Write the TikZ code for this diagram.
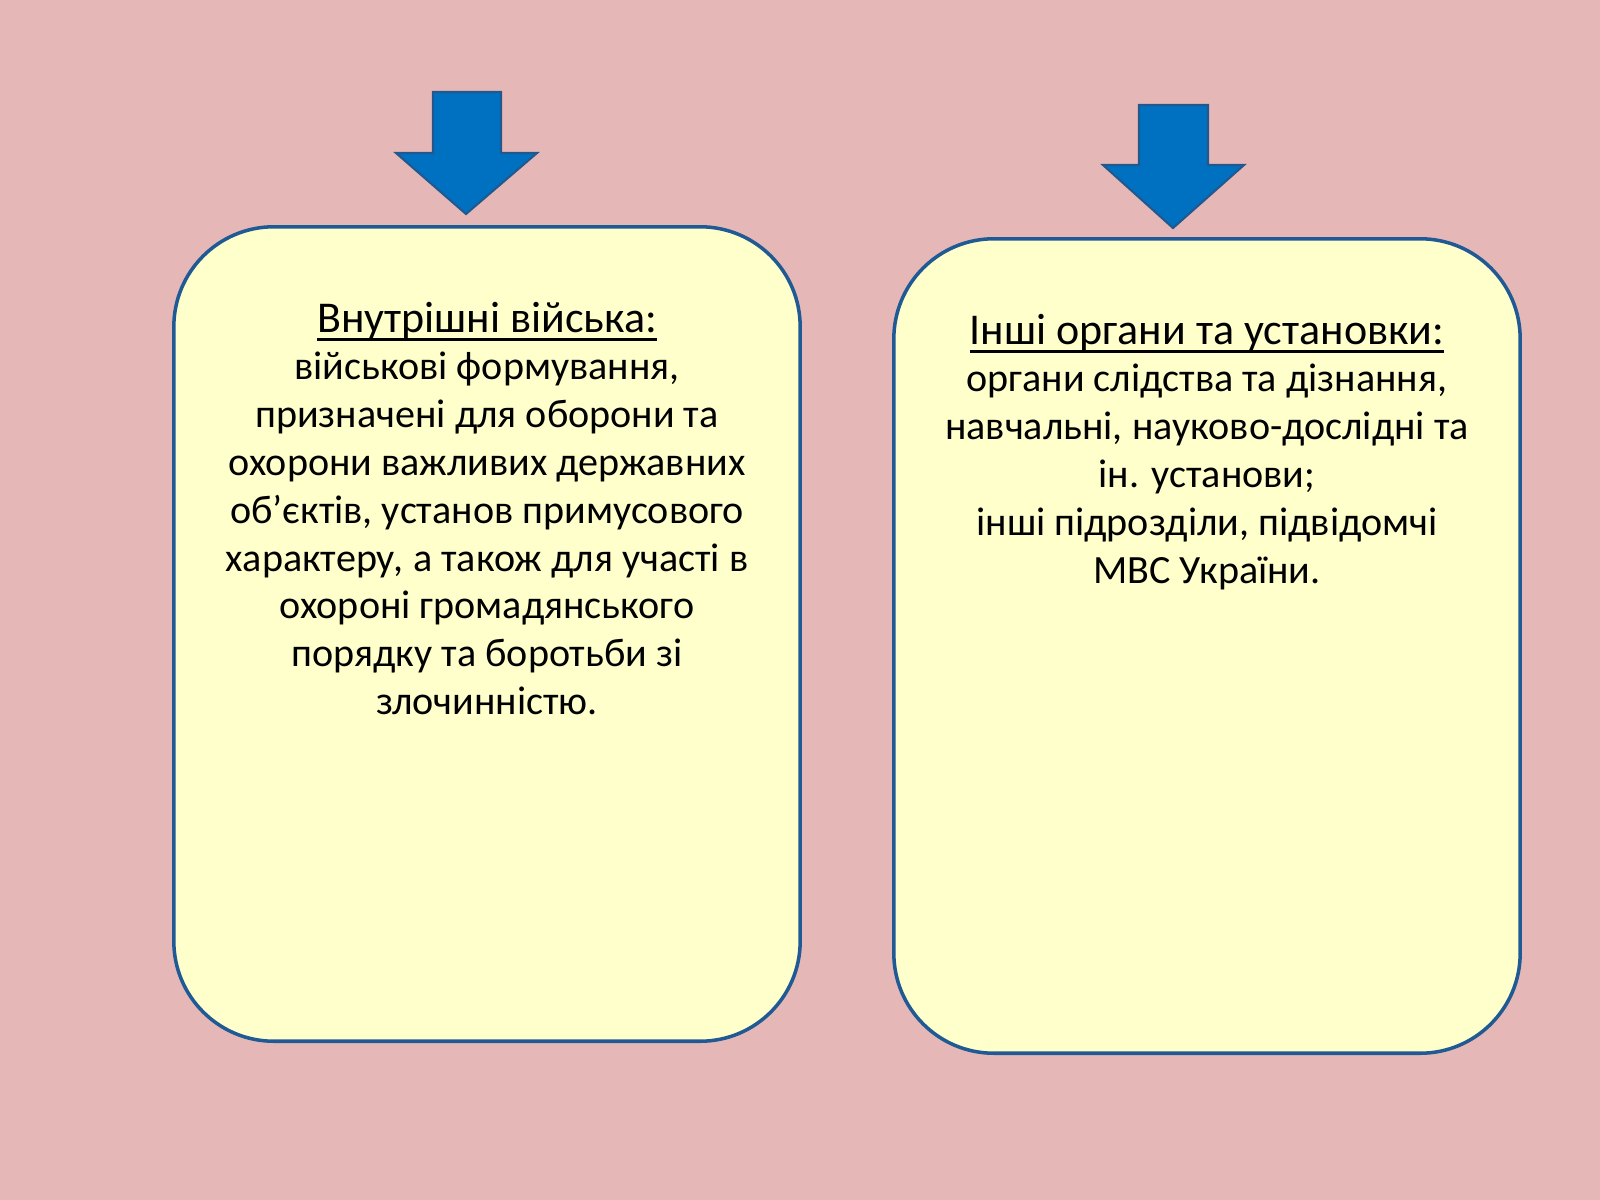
\documentclass[tikz,border=0pt]{standalone}
\usepackage{fontspec}
\setmainfont{Carlito}
\usepackage{xcolor}
\usepackage{tikz}
\usetikzlibrary{positioning}
\definecolor{slidebg}{HTML}{E5B8B7}
\definecolor{panelfill}{HTML}{FFFFCC}
\definecolor{panelline}{HTML}{1F5A94}
\definecolor{arrowfill}{HTML}{0070C0}
\definecolor{arrowline}{HTML}{21598F}
\newcommand{\paneltitle}[1]{\setbox0\hbox{\fontsize{12.5}{13.6}\selectfont #1}\leavevmode\rlap{\rule[-2.6pt]{\wd0}{0.8pt}}\box0}

\begin{document}
\begin{tikzpicture}[x=0.01cm,y=-0.01cm,
        panel/.style={draw=panelline, line width=1pt, fill=panelfill, rounded corners=1cm,
            minimum width=6.26cm, minimum height=8.14cm, inner sep=0pt},
        paneltext/.style={align=center, inner sep=0pt, font=\fontsize{11.4}{13.6}\selectfont},
        downarrow/.style={draw=arrowline, line width=0.6pt, fill=arrowfill, line join=miter}]
        \fill[slidebg] (0,0) rectangle (1600,1200);
        % arrows
        \draw[downarrow] (433,92) -- (501,92) -- (501,153) -- (537,153) -- (466,214) -- (396,153) -- (433,153) -- cycle;
        \draw[downarrow] (1139,105) -- (1208,105) -- (1208,165) -- (1244,165) -- (1173,228) -- (1103,165) -- (1139,165) -- cycle;
        % panels
        \node[panel] (troops) at (487,634) {};
        \node[panel] (others) at (1207,646) {};
        \node[paneltext, below=0.76cm of troops.north] (troopstext) {
            \paneltitle{Внутрішні війська:}\\
            військові формування,\\
            призначені для оборони та\\
            охорони важливих державних\\
            об’єктів, установ примусового\\
            характеру, а також для участі в\\
            охороні громадянського\\
            порядку та боротьби зі\\
            злочинністю.
        };
        \node[paneltext, below=0.76cm of others.north] (otherstext) {
            \paneltitle{Інші органи та установки:}\\
            органи слідства та дізнання,\\
            навчальні, науково-дослідні та\\
            ін. установи;\\
            інші підрозділи, підвідомчі\\
            МВС України.
        };
\end{tikzpicture}
\end{document}
